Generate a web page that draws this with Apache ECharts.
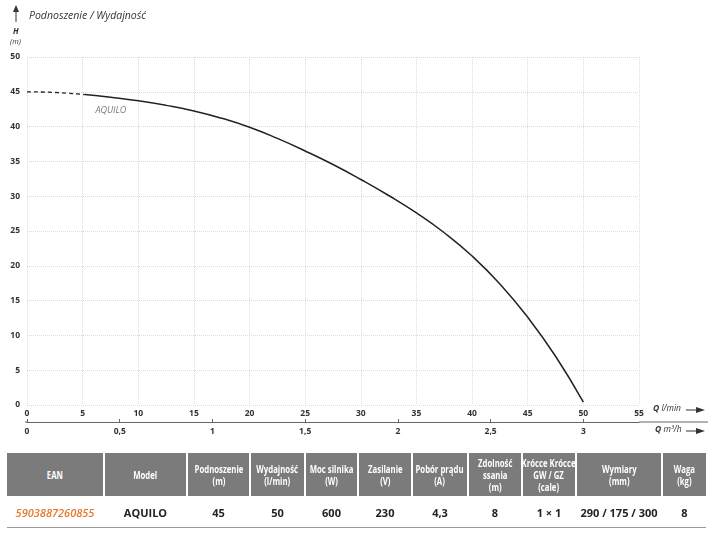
<!DOCTYPE html>
<html>
<head>
<meta charset="UTF-8">
<title>AQUILO</title>
<script src="https://cdn.jsdelivr.net/npm/echarts@6/dist/echarts.min.js"></script>
<style>
  html, body { margin: 0; padding: 0; background: #fff; }
  #wrap { position: relative; width: 712px; height: 542px; overflow: hidden; }
  #main { position: absolute; left: 0; top: 0; width: 712px; height: 542px; }
  .hd { position: absolute; top: 453px; height: 43px; background: #7b7b7b; color: #fff;
        display: flex; align-items: center; justify-content: center; text-align: center; overflow: visible; }
  .hd span { display: inline-block; white-space: nowrap; font-family: "Open Sans", sans-serif; font-weight: bold;
        font-size: 10.5px; line-height: 12px; transform: scaleX(0.74); }
  .val { position: absolute; top: 503px; height: 18px; font-family: "Open Sans", sans-serif; font-weight: bold;
         font-size: 11px; color: #222; display: flex; align-items: center; justify-content: center; white-space: nowrap; }
  .ean { color: #e8772e; font-style: italic; font-weight: 600; }
  #rule { position: absolute; left: 7px; top: 527px; width: 699px; height: 1px; background: #9a9a9a; }
</style>
</head>
<body>
<div id="wrap">
  <div id="main"></div>
</div>
<script type="text/javascript">
// krzywa pompy: Q [l/min], H [m]
var dashedQ = [0, 2.5, 5.2];
var dashedH = [45, 44.9, 44.6];
var curveQ = [5.2, 7.5, 10, 12.5, 15, 17.5, 20, 22.5, 25, 27.5, 30, 32.5, 35, 37.5, 40, 42.5, 45, 47.5, 50];
var curveH = [44.6, 44.2, 43.7, 43.05, 42.25, 41.2, 39.9, 38.3, 36.5, 34.55, 32.4, 30.1, 27.6, 24.75, 21.4, 17.4, 12.6, 7.0, 0.4];
var modelName = 'AQUILO';
var labelAt = [6.1, 42.3];

// tabela
var headers = ['EAN', 'Model', 'Podnoszenie<br>(m)', 'Wydajność<br>(l/min)', 'Moc silnika<br>(W)', 'Zasilanie<br>(V)',
  'Pobór prądu<br>(A)', 'Zdolność<br>ssania<br>(m)', 'Krócce Krócce<br>GW / GZ<br>(cale)', 'Wymiary<br>(mm)', 'Waga<br>(kg)'];
var values = ['5903887260855', 'AQUILO', '45', '50', '600', '230', '4,3', '8', '1 × 1', '290 / 175 / 300', '8'];
var colWidths = [96, 81, 61, 53, 51, 52, 54, 52, 52, 84, 43];

function pairs(xs, ys) {
  return xs.map(function (x, i) { return [x, ys[i]]; });
}

var wrap = document.getElementById('wrap');
var left = 7;
headers.forEach(function (h, i) {
  var d = document.createElement('div');
  d.className = 'hd';
  d.style.left = left + 'px';
  d.style.width = colWidths[i] + 'px';
  d.innerHTML = '<span>' + h + '</span>';
  wrap.appendChild(d);
  var v = document.createElement('div');
  v.className = 'val' + (i === 0 ? ' ean' : '');
  v.style.left = left + 'px';
  v.style.width = colWidths[i] + 'px';
  v.textContent = values[i];
  wrap.appendChild(v);
  left += colWidths[i] + 2;
});
var rule = document.createElement('div');
rule.id = 'rule';
wrap.appendChild(rule);

var font = '"Open Sans", sans-serif';
var myChart = echarts.init(document.getElementById('main'));
myChart.setOption({
  animation: false,
  grid: { left: 27, right: 73, top: 57, bottom: 137, containLabel: false },
  xAxis: [{
    type: 'value', min: 0, max: 55, interval: 5, position: 'bottom',
    axisLine: { show: false }, axisTick: { show: false },
    axisLabel: { margin: 4, fontSize: 8.5, fontWeight: 'bold', color: '#333', fontFamily: font },
    splitLine: { show: true, lineStyle: { color: '#dcdcdc', type: 'dotted', width: 1 } }
  }, {
    type: 'value', min: 0, max: 3.3, interval: 0.5, position: 'bottom', offset: 17,
    axisLine: { show: true, lineStyle: { color: '#666', width: 1 } },
    axisTick: { show: true, inside: true, length: 3, lineStyle: { color: '#666' } },
    axisLabel: { margin: 5, fontSize: 8.5, fontWeight: 'bold', color: '#333', fontFamily: font, showMaxLabel: false,
      formatter: function (v) { return String(v).replace('.', ','); } },
    splitLine: { show: false }
  }],
  yAxis: {
    type: 'value', min: 0, max: 50, interval: 5,
    axisLine: { show: false }, axisTick: { show: false },
    axisLabel: { margin: 7, fontSize: 8.5, fontWeight: 'bold', color: '#333', fontFamily: font },
    splitLine: { show: true, lineStyle: { color: '#dcdcdc', type: 'dotted', width: 1 } }
  },
  graphic: [
    // przedłużenie dolnej osi
    { type: 'line', shape: { x1: 25, y1: 422, x2: 27, y2: 422 }, style: { stroke: '#666', lineWidth: 1 } },
    { type: 'line', shape: { x1: 639, y1: 422, x2: 708, y2: 422 }, style: { stroke: '#666', lineWidth: 1 } },
    // strzałka + tytuł
    { type: 'line', shape: { x1: 16, y1: 11, x2: 16, y2: 22 }, style: { stroke: '#333', lineWidth: 1 } },
    { type: 'polygon', shape: { points: [[13, 12], [16, 5], [19, 12]] }, style: { fill: '#333' } },
    { type: 'text', left: 29, top: 11, style: { text: 'Podnoszenie / Wydajność', font: 'italic 10.5px ' + font, fill: '#333' } },
    { type: 'text', left: 13, top: 28, style: { text: 'H', font: 'italic bold 8px ' + font, fill: '#333' } },
    { type: 'text', left: 10, top: 38, style: { text: '(m)', font: 'italic 7.5px ' + font, fill: '#333' } },
    // opisy osi Q
    { type: 'text', left: 653, top: 404, style: { text: '{b|Q} l/min', font: 'italic 8.5px ' + font, fill: '#333',
      rich: { b: { fontWeight: 'bold', fontStyle: 'italic', fontSize: 8.5, fontFamily: font, fill: '#333' } } } },
    { type: 'line', shape: { x1: 686, y1: 410, x2: 698, y2: 410 }, style: { stroke: '#333', lineWidth: 1 } },
    { type: 'polygon', shape: { points: [[696, 407], [705, 410], [696, 413]] }, style: { fill: '#333' } },
    { type: 'text', left: 655, top: 425, style: { text: '{b|Q} m³/h', font: 'italic 8.5px ' + font, fill: '#333',
      rich: { b: { fontWeight: 'bold', fontStyle: 'italic', fontSize: 8.5, fontFamily: font, fill: '#333' } } } },
    { type: 'line', shape: { x1: 686, y1: 431, x2: 698, y2: 431 }, style: { stroke: '#333', lineWidth: 1 } },
    { type: 'polygon', shape: { points: [[696, 428], [705, 431], [696, 434]] }, style: { fill: '#333' } }
  ],
  series: [{
    type: 'line', xAxisIndex: 0, data: pairs(dashedQ, dashedH), smooth: true, symbol: 'none',
    lineStyle: { color: '#222', width: 1.3, type: [4, 3] }
  }, {
    type: 'line', xAxisIndex: 0, data: pairs(curveQ, curveH), smooth: 0.5, symbol: 'none',
    lineStyle: { color: '#222', width: 1.5 }
  }, {
    type: 'scatter', xAxisIndex: 0, data: [labelAt], symbolSize: 1, itemStyle: { color: 'rgba(0,0,0,0)' },
    label: { show: true, formatter: modelName, position: 'right', distance: 0,
      fontStyle: 'italic', fontSize: 9, color: '#555', fontFamily: font }
  }]
});
</script>
</body>
</html>
